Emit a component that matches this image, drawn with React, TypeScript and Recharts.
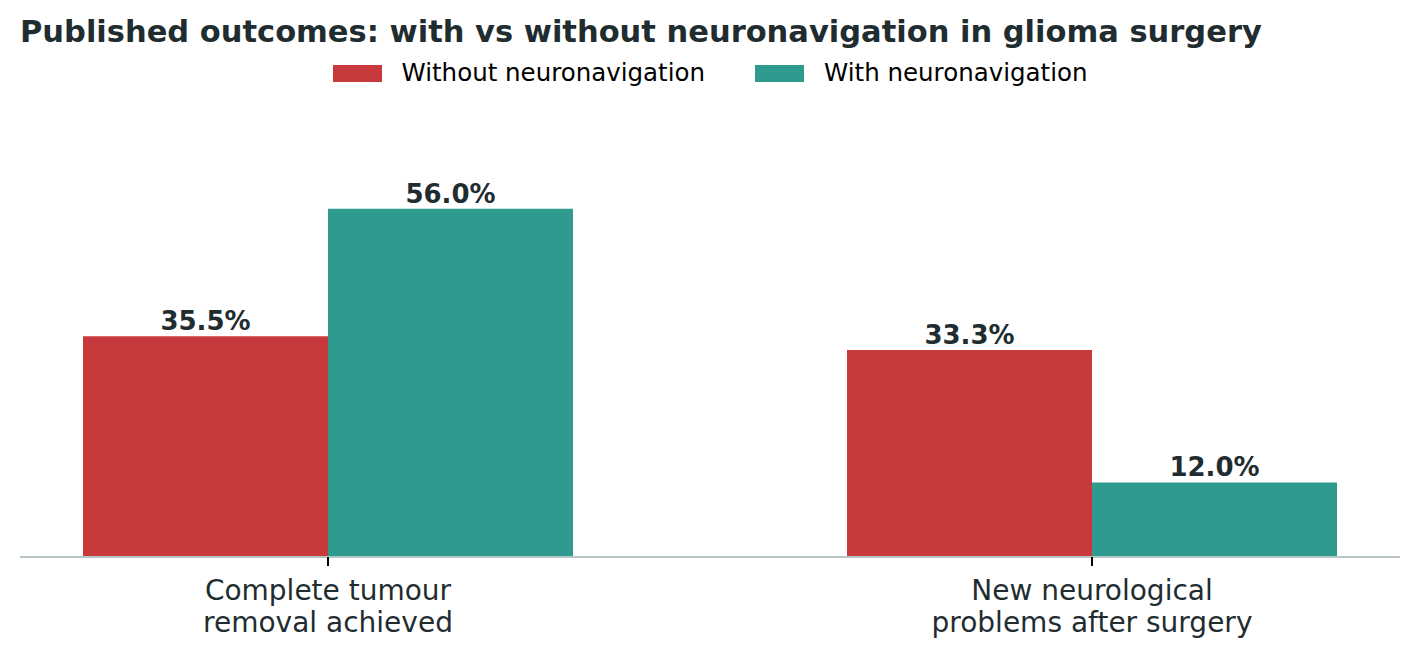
import { BarChart, Bar, XAxis, YAxis, Legend, LabelList } from "recharts";

const RED = "#c8393c";
const TEAL = "#2e9b8e";
const INK = "#1f2d30";
const AXIS_LINE = "#b8c5c5";

const categories = ["Complete tumour\nremoval achieved", "New neurological\nproblems after surgery"];
const withoutNav = [35.5, 33.3];
const withNav = [56.0, 12.0];
const seriesNames = ["Without neuronavigation", "With neuronavigation"];

const data = categories.map((c, i) => ({
  label: c,
  without: withoutNav[i],
  with: withNav[i],
}));

function CatTick({ x, y, payload }: { x?: number; y?: number; payload?: { value: string } }) {
  const lines = (payload?.value ?? "").split("\n");
  return (
    <text x={x} y={y} textAnchor="middle" fill={INK} fontSize={28} fontFamily="DejaVu Sans">
      {lines.map((l, i) => (
        <tspan key={i} x={x} dy={i === 0 ? 34 : 32}>
          {l}
        </tspan>
      ))}
    </text>
  );
}

function LegendBox() {
  const items = [
    { name: seriesNames[0], color: RED },
    { name: seriesNames[1], color: TEAL },
  ];
  return (
    <div style={{ display: "flex", justifyContent: "center", alignItems: "center", gap: 50, height: 28 }}>
      {items.map((it) => (
        <div key={it.name} style={{ display: "flex", alignItems: "center" }}>
          <span style={{ display: "inline-block", width: 49, height: 17, background: it.color, marginRight: 20 }} />
          <span style={{ fontSize: 24.5, color: "#000", fontFamily: "DejaVu Sans", lineHeight: "28px" }}>{it.name}</span>
        </div>
      ))}
    </div>
  );
}

const pct = (v: unknown) => `${Number(v).toFixed(1)}%`;

export default function App() {
  return (
    <div style={{ position: "absolute", left: 0, top: 0, width: 1420, height: 657, background: "#fff", fontFamily: "DejaVu Sans" }}>
      <div
        style={{
          position: "absolute",
          left: 20,
          top: 17,
          fontSize: 30.5,
          lineHeight: "30.5px",
          fontWeight: "bold",
          color: INK,
          whiteSpace: "nowrap",
        }}
      >
        Published outcomes: with vs without neuronavigation in glioma surgery
      </div>
      <BarChart
        width={1420}
        height={657}
        data={data}
        margin={{ top: 131, right: 20, bottom: 10, left: 20 }}
        barGap={0}
        barSize={245}
      >
        <XAxis
          dataKey="label"
          height={90}
          padding={{ left: -74, right: -74 }}
          axisLine={{ stroke: AXIS_LINE, strokeWidth: 2 }}
          tickLine={{ stroke: "#000", strokeWidth: 2 }}
          tickSize={9}
          tickMargin={0}
          interval={0}
          tick={<CatTick />}
        />
        <YAxis hide domain={[0, 64]} />
        <Legend
          verticalAlign="top"
          content={<LegendBox />}
          wrapperStyle={{ position: "absolute", top: 59, left: 0, width: 1420 }}
        />
        <Bar dataKey="without" name={seriesNames[0]} fill={RED} isAnimationActive={false}>
          <LabelList
            dataKey="without"
            position="top"
            offset={6}
            formatter={pct}
            fill={INK}
            fontSize={26}
            fontWeight="bold"
            fontFamily="DejaVu Sans"
          />
        </Bar>
        <Bar dataKey="with" name={seriesNames[1]} fill={TEAL} isAnimationActive={false}>
          <LabelList
            dataKey="with"
            position="top"
            offset={6}
            formatter={pct}
            fill={INK}
            fontSize={26}
            fontWeight="bold"
            fontFamily="DejaVu Sans"
          />
        </Bar>
      </BarChart>
    </div>
  );
}
